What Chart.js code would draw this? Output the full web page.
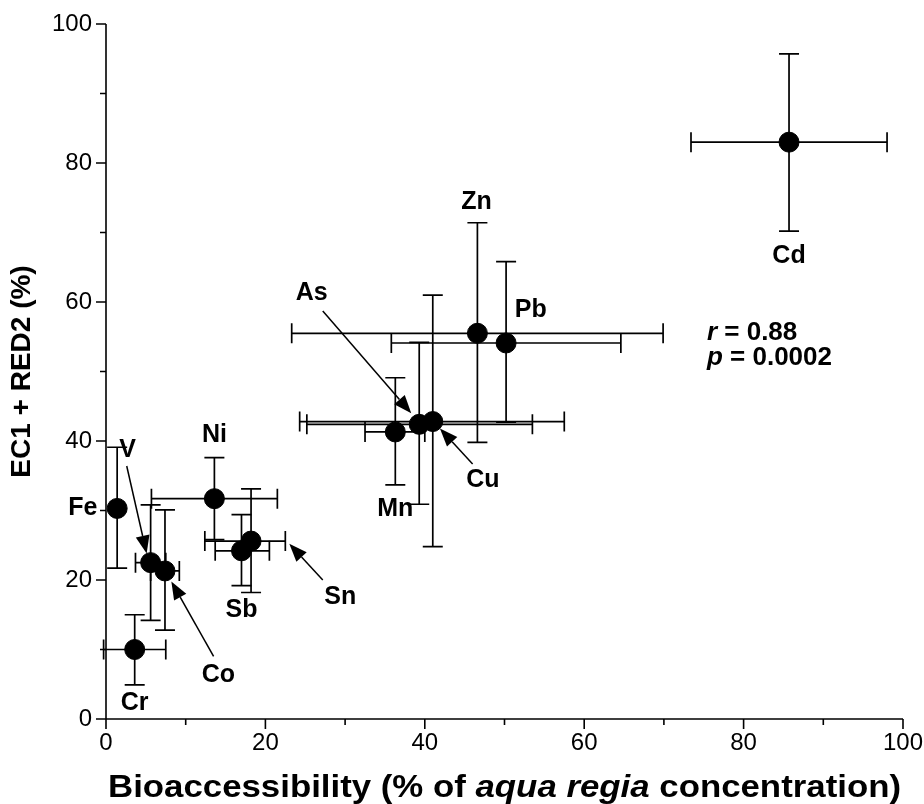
<!DOCTYPE html>
<html lang="en">
<head>
<meta charset="UTF-8">
<title>EC1 + RED2 vs bioaccessibility</title>
<script src="https://cdn.jsdelivr.net/npm/chart.js"></script>
<style>
  body { margin: 0; background: #fff; }
  #wrap { width: 924px; height: 804px; }
</style>
</head>
<body>
<div id="wrap"><canvas id="scatterChart"></canvas></div>
<script>
// element, bioaccessibility (x), EC1+RED2 (y) and error bar ends
const elements = ['Cd', 'Zn', 'Pb', 'As', 'Cu', 'Mn', 'Ni', 'Sn', 'Sb', 'Fe', 'V', 'Co', 'Cr'];
const bioX  = [85.7, 46.6, 50.2, 39.3, 41.0, 36.3, 13.6, 18.2, 17.0, 1.4, 5.6, 7.4, 3.6];
const ecY   = [83.0, 55.5, 54.1, 42.4, 42.8, 41.3, 31.7, 25.6, 24.2, 30.3, 22.5, 21.3, 10.0];
const xLow  = [73.4, 23.3, 35.8, 25.2, 24.3, 32.5, 5.7, 12.4, 13.7, 1.4, 3.7, 5.6, -0.3];
const xHigh = [98.0, 69.9, 64.6, 53.5, 57.5, 40.0, 21.5, 22.5, 20.5, 1.4, 7.5, 9.2, 7.5];
const yLow  = [70.2, 39.8, 42.7, 30.9, 24.8, 33.7, 25.8, 18.2, 19.2, 21.7, 14.2, 12.8, 4.9];
const yHigh = [95.7, 71.4, 65.8, 54.2, 61.0, 49.1, 37.6, 33.1, 29.4, 39.1, 30.8, 30.1, 15.0];

// where each element name sits (data units)
const labelX = [85.7, 46.5, 53.3, 25.8, 47.3, 36.3, 13.6, 29.4, 17.0, -2.9, 2.7, 14.1, 3.6];
const labelY = [66.6, 74.4, 58.8, 61.3, 34.4, 30.2, 40.9, 17.6, 15.7, 30.4, 38.7, 6.3, 2.3];

// arrows: from label towards the point
const arrowNames = ['As', 'Cu', 'V', 'Co', 'Sn'];
const arrowFromX = [27.2, 46.0, 2.6, 13.5, 27.2];
const arrowFromY = [58.7, 36.7, 36.4, 9.0, 20.0];
const arrowToX   = [38.3, 41.9, 5.1, 8.2, 23.0];
const arrowToY   = [44.0, 41.8, 23.8, 19.8, 25.2];

const statsLines = [['r', ' = 0.88'], ['p', ' = 0.0002']];
const statsX = 75.4;
const statsY = [55.5, 51.9];

const xTicks = [0, 20, 40, 60, 80, 100];
const yTicks = [0, 20, 40, 60, 80, 100];

const FONT = '"Liberation Sans", Arial, sans-serif';

const errorBars = {
    id: 'errorBars',
    beforeDatasetsDraw(chart) {
        const ctx = chart.ctx, xs = chart.scales.x, ys = chart.scales.y;
        const cap = 10;
        ctx.save();
        ctx.strokeStyle = '#000';
        ctx.lineWidth = 1.7;
        for (let i = 0; i < elements.length; i++) {
            const px = xs.getPixelForValue(bioX[i]);
            const py = ys.getPixelForValue(ecY[i]);
            const x1 = xs.getPixelForValue(xLow[i]);
            const x2 = xs.getPixelForValue(xHigh[i]);
            const y1 = ys.getPixelForValue(yLow[i]);
            const y2 = ys.getPixelForValue(yHigh[i]);
            ctx.beginPath();
            if (xHigh[i] > xLow[i]) {
                ctx.moveTo(x1, py); ctx.lineTo(x2, py);
                ctx.moveTo(x1, py - cap); ctx.lineTo(x1, py + cap);
                ctx.moveTo(x2, py - cap); ctx.lineTo(x2, py + cap);
            }
            ctx.moveTo(px, y1); ctx.lineTo(px, y2);
            ctx.moveTo(px - cap, y1); ctx.lineTo(px + cap, y1);
            ctx.moveTo(px - cap, y2); ctx.lineTo(px + cap, y2);
            ctx.stroke();
        }
        ctx.restore();
    }
};

const decorations = {
    id: 'decorations',
    afterDraw(chart) {
        const ctx = chart.ctx, xs = chart.scales.x, ys = chart.scales.y;
        const area = chart.chartArea;
        ctx.save();
        ctx.strokeStyle = '#000';
        ctx.fillStyle = '#000';
        ctx.lineWidth = 1.6;

        // axes with major and minor ticks
        ctx.beginPath();
        ctx.moveTo(area.left, area.top); ctx.lineTo(area.left, area.bottom); ctx.lineTo(area.right, area.bottom);
        for (let v = 0; v <= 100; v += 10) {
            const len = v % 20 === 0 ? 10 : 6;
            const xp = xs.getPixelForValue(v);
            ctx.moveTo(xp, area.bottom); ctx.lineTo(xp, area.bottom + len);
            const yp = ys.getPixelForValue(v);
            ctx.moveTo(area.left, yp); ctx.lineTo(area.left - len, yp);
        }
        ctx.stroke();

        // element labels
        ctx.font = 'bold 25px ' + FONT;
        ctx.textAlign = 'center';
        ctx.textBaseline = 'middle';
        for (let i = 0; i < elements.length; i++) {
            ctx.fillText(elements[i], xs.getPixelForValue(labelX[i]), ys.getPixelForValue(labelY[i]));
        }

        // arrows
        ctx.lineWidth = 1.5;
        for (let i = 0; i < arrowNames.length; i++) {
            const ax = xs.getPixelForValue(arrowFromX[i]), ay = ys.getPixelForValue(arrowFromY[i]);
            const bx = xs.getPixelForValue(arrowToX[i]), by = ys.getPixelForValue(arrowToY[i]);
            const ang = Math.atan2(by - ay, bx - ax);
            const head = 18, half = 7;
            const hx = bx - head * Math.cos(ang), hy = by - head * Math.sin(ang);
            ctx.beginPath();
            ctx.moveTo(ax, ay); ctx.lineTo(hx, hy);
            ctx.stroke();
            ctx.beginPath();
            ctx.moveTo(bx, by);
            ctx.lineTo(hx + half * Math.sin(ang), hy - half * Math.cos(ang));
            ctx.lineTo(hx - half * Math.sin(ang), hy + half * Math.cos(ang));
            ctx.closePath();
            ctx.fill();
        }

        // r and p values
        ctx.textAlign = 'left';
        for (let i = 0; i < statsLines.length; i++) {
            let x = xs.getPixelForValue(statsX);
            const y = ys.getPixelForValue(statsY[i]);
            ctx.font = 'italic bold 26px ' + FONT;
            ctx.fillText(statsLines[i][0], x, y);
            x += ctx.measureText(statsLines[i][0]).width;
            ctx.font = 'bold 26px ' + FONT;
            ctx.fillText(statsLines[i][1], x, y);
        }

        // x axis title with italic part, spread over the axis width
        const parts = [['Bioaccessibility (% of ', false], ['aqua regia', true], [' concentration)', false]];
        const fontFor = it => (it ? 'italic ' : '') + 'bold 31px ' + FONT;
        let total = 0;
        parts.forEach(p => { ctx.font = fontFor(p[1]); total += ctx.measureText(p[0]).width; });
        const stretch = (area.right - area.left - 4) / total;
        ctx.save();
        ctx.translate((area.left + area.right) / 2, 788);
        ctx.scale(stretch, 1);
        let tx = -total / 2;
        parts.forEach(p => {
            ctx.font = fontFor(p[1]);
            ctx.fillText(p[0], tx, 0);
            tx += ctx.measureText(p[0]).width;
        });
        ctx.restore();

        // y axis title
        ctx.translate(22, (area.top + area.bottom) / 2);
        ctx.rotate(-Math.PI / 2);
        ctx.textAlign = 'center';
        ctx.font = 'bold 28px ' + FONT;
        ctx.fillText('EC1 + RED2 (%)', 0, 0);
        ctx.restore();
    }
};

new Chart(document.getElementById('scatterChart'), {
    type: 'scatter',
    data: {
        datasets: [{
            data: bioX.map((x, i) => ({ x: x, y: ecY[i] })),
            backgroundColor: '#000',
            borderColor: '#000',
            pointRadius: 10,
            pointHoverRadius: 10,
            clip: false
        }]
    },
    options: {
        responsive: true,
        maintainAspectRatio: false,
        animation: false,
        layout: { padding: { top: 24, right: 21, left: 0, bottom: 0 } },
        plugins: { legend: { display: false }, tooltip: { enabled: false } },
        scales: {
            x: {
                type: 'linear', min: 0, max: 100,
                afterBuildTicks: s => { s.ticks = xTicks.map(v => ({ value: v })); },
                afterFit: s => { s.height = 85; },
                grid: { display: false, drawTicks: true, tickLength: 10 },
                border: { display: false },
                ticks: { color: '#000', padding: 0, font: { family: FONT, size: 24 } }
            },
            y: {
                type: 'linear', min: 0, max: 100,
                afterBuildTicks: s => { s.ticks = yTicks.map(v => ({ value: v })); },
                afterFit: s => { s.width = 106; },
                grid: { display: false, drawTicks: true, tickLength: 10 },
                border: { display: false },
                ticks: { color: '#000', padding: 4, font: { family: FONT, size: 24 } }
            }
        }
    },
    plugins: [errorBars, decorations]
});
</script>
</body>
</html>
